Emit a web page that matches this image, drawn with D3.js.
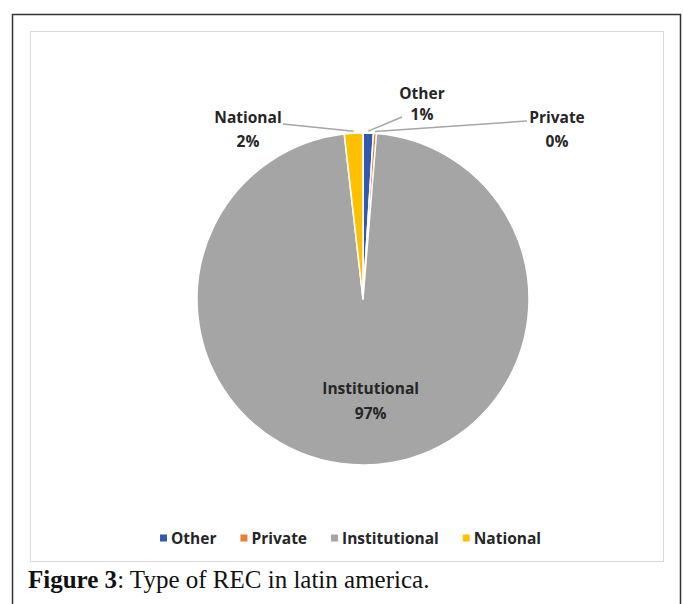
<!DOCTYPE html>
<html>
<head>
<meta charset="utf-8">
<script src="https://cdn.jsdelivr.net/npm/d3@7"></script>
<style>
  html, body { margin: 0; padding: 0; background: #fff; }
  svg { display: block; }
</style>
</head>
<body>
<svg id="chart" width="683" height="604"></svg>
<script>
// ---- data ----
const categories = ["Other", "Private", "Institutional", "National"];
const values = [1.0, 0.3, 96.9, 1.8];
const valueLabels = ["1%", "0%", "97%", "2%"];
const colors = ["#3259ab", "#ed7d31", "#a5a5a5", "#ffc000"];
const captionBold = "Figure 3";
const captionText = ": Type of REC in latin america.";

// ---- layout ----
const W = 683, H = 604;
const cx = 363, cy = 299, R = 166;
// outside label anchors (relative to pie centre) for small slices
const outsideLabel = {
  "Other":    {dx: 59,   dy: -200,   gap: 21, lx: 39,  ly: -182},
  "Private":  {dx: 194,  dy: -176,   gap: 24, lx: 164, ly: -178},
  "National": {dx: -115, dy: -176,   gap: 24, lx: -80, ly: -175}
};

const svg = d3.select("#chart");

// outer figure border
svg.append("rect").attr("x", 12.5).attr("y", 14.5).attr("width", 668).attr("height", 600)
  .attr("fill", "none").attr("stroke", "#333").attr("stroke-width", 1.5);
// inner chart frame
svg.append("rect").attr("x", 30.5).attr("y", 31.5).attr("width", 633).attr("height", 530)
  .attr("fill", "#fff").attr("stroke", "#d9d9d9").attr("stroke-width", 1);

const data = categories.map((c, i) => ({cat: c, value: values[i], label: valueLabels[i], color: colors[i]}));

const pie = d3.pie().sort(null).value(d => d.value).startAngle(0).endAngle(2 * Math.PI);
const arcs = pie(data);
const arc = d3.arc().innerRadius(0).outerRadius(R);

const g = svg.append("g").attr("transform", `translate(${cx},${cy})`);

g.selectAll("path.slice").data(arcs).join("path")
  .attr("class", "slice")
  .attr("d", arc)
  .attr("fill", d => d.data.color)
  .attr("stroke", "#fff")
  .attr("stroke-width", 1.5)
  .attr("stroke-linejoin", "round");

const labelFont = "'Open Sans', Lato, sans-serif";
const labelSize = 15.5;

// inside label for big slice
const inArc = d3.arc().innerRadius(R * 0.62).outerRadius(R * 0.62);
arcs.filter(d => !outsideLabel[d.data.cat]).forEach(d => {
  const [x, y] = inArc.centroid(d);
  const t = g.append("text").attr("text-anchor", "middle")
    .attr("font-family", labelFont).attr("font-weight", "bold").attr("font-size", labelSize)
    .attr("fill", "#262626");
  t.append("tspan").attr("x", x + 6).attr("y", y - 8).text(d.data.cat);
  t.append("tspan").attr("x", x + 6).attr("y", y + 17).text(d.data.label);
});

// outside labels with leader lines
const edgeArc = d3.arc().innerRadius(R).outerRadius(R);
arcs.filter(d => outsideLabel[d.data.cat]).forEach(d => {
  const p = outsideLabel[d.data.cat];
  const [ex, ey] = edgeArc.centroid(d);
  g.append("polyline")
    .attr("points", [[ex, ey - 2], [p.lx, p.ly]].map(q => q.join(",")).join(" "))
    .attr("fill", "none").attr("stroke", "#a6a6a6").attr("stroke-width", 1.5);
  const t = g.append("text").attr("text-anchor", "middle")
    .attr("font-family", labelFont).attr("font-weight", "bold").attr("font-size", labelSize)
    .attr("fill", "#262626");
  t.append("tspan").attr("x", p.dx).attr("y", p.dy).text(d.data.cat);
  t.append("tspan").attr("x", p.dx).attr("y", p.dy + p.gap).text(d.data.label);
});

// legend
const legendItems = svg.append("g").attr("transform", "translate(0,538)");
let lx = 160;
data.forEach(d => {
  const item = legendItems.append("g").attr("transform", `translate(${lx},0)`);
  item.append("rect").attr("x", 0).attr("y", -3.5).attr("width", 7).attr("height", 7).attr("fill", d.color);
  const t = item.append("text").attr("x", 11).attr("y", 5.5)
    .attr("font-family", labelFont).attr("font-weight", "bold").attr("font-size", labelSize)
    .attr("fill", "#262626").text(d.cat);
  lx += 11 + t.node().getComputedTextLength() + 24;
});

// caption
const cap = svg.append("text").attr("x", 28).attr("y", 588)
  .attr("font-family", "'Liberation Serif', 'DejaVu Serif', serif").attr("font-size", 25).attr("fill", "#111");
cap.append("tspan").attr("font-weight", "bold").text(captionBold);
cap.append("tspan").text(captionText);
</script>
</body>
</html>
